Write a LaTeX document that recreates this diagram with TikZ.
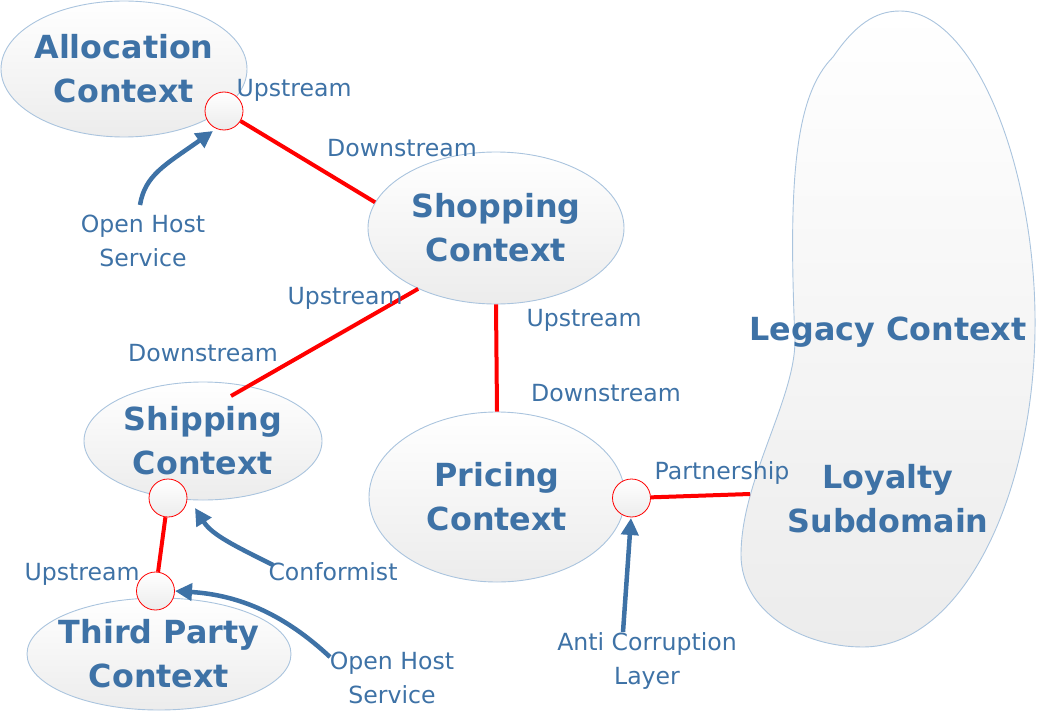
\documentclass[tikz,border=0pt]{standalone}
\usepackage{fontspec}
\setmainfont{DejaVu Sans}
\usetikzlibrary{shapes.geometric,arrows.meta}
\definecolor{txt}{RGB}{62,114,166}
\definecolor{ctxborder}{RGB}{170,196,222}
\definecolor{ctxbottom}{RGB}{236,236,236}
\begin{document}
\begin{tikzpicture}[x=1pt,y=-1pt,
  ctx/.style={ellipse, draw=ctxborder, line width=0.9pt, top color=white, bottom color=ctxbottom, inner sep=0pt},
  title/.style={text=txt, font=\fontsize{31.8}{44}\selectfont\bfseries, align=center, inner sep=0pt},
  lbl/.style={text=txt, font=\fontsize{23.6}{34}\selectfont, align=center, inner sep=0pt},
  port/.style={circle, draw=red, line width=0.8pt, top color=white, bottom color=ctxbottom, minimum size=38pt, inner sep=0pt},
  rel/.style={draw=red, line width=4pt},
  pat/.style={draw=txt, line width=4.5pt, -{Triangle[length=17pt,width=17pt]}}]
\useasboundingbox (0,0) rectangle (1040,722);

% Legacy context blob
\path[draw=ctxborder, line width=0.9pt, top color=white, bottom color=ctxbottom]
  (833,57) .. controls (855,25) and (875,11) .. (900,11)
  .. controls (975,11) and (1037,170) .. (1035,330)
  .. controls (1033,500) and (960,647) .. (863,647)
  .. controls (800,647) and (741,610) .. (741,555)
  .. controls (741,480) and (795,400) .. (795,340)
  .. controls (788,180) and (795,95) .. (833,57) -- cycle;
\node[title, anchor=base] (legacy) at (888,340.5) {Legacy Context};
\node[title] (loyal) at (888,498.5) {Loyalty\\Subdomain};
\coordinate (loyalL) at (750,494);

% contexts
\node[ctx, minimum width=246pt, minimum height=136pt] (alloc) at (124,69) {};
\node[title] at (alloc) {Allocation\\Context};
\node[ctx, minimum width=256pt, minimum height=152pt] (shop) at (496,228) {};
\node[title] at (shop) {Shopping\\Context};
\node[ctx, minimum width=238pt, minimum height=118pt] (ship) at (203,441) {};
\node[title] at (ship) {Shipping\\Context};
\node[ctx, minimum width=264pt, minimum height=112pt] (third) at (159,654) {};
\node[title] at (third) {Third Party\\Context};
\node[ctx, minimum width=256pt, minimum height=170pt] (price) at (497,497) {};
\node[title] at (price) {Pricing\\Context};

% ports
\node[port] (ca) at (224,111) {};
\node[port] (cs) at (168,498) {};
\node[port] (ct) at (155.5,591) {};
\node[port] (cp) at (631.5,498) {};

% relations
\coordinate (shipT) at (231,396);
\draw[rel] (ca) -- (shop.168);
\draw[rel] (shop.218) -- (shipT);
\draw[rel] (shop.south) -- (price.north);
\draw[rel] (cs) -- (ct);
\draw[rel] (cp) -- (loyalL);

% labels
\node[lbl, anchor=base] (l1) at (294,96.5) {Upstream};
\node[lbl, anchor=base] (l2) at (402,156.5) {Downstream};
\node[lbl, anchor=base] (l3) at (345,304.5) {Upstream};
\node[lbl, anchor=base] (l4) at (203,361.5) {Downstream};
\node[lbl, anchor=base] (l5) at (584,326.5) {Upstream};
\node[lbl, anchor=base] (l6) at (606,401.5) {Downstream};
\node[lbl, anchor=base] (l7) at (722,479.5) {Partnership};
\node[lbl, anchor=base] (l8) at (82,580.5) {Upstream};
\node[lbl, anchor=base] (conf) at (333,580.5) {Conformist};
\node[lbl] (ohs1) at (143,240.5) {Open Host\\Service};
\node[lbl] (ohs2) at (392,677.5) {Open Host\\Service};
\node[lbl] (acl) at (647,660.5) {Anti Corruption\\Layer};

% pattern arrows
\coordinate (a1) at (140,205);
\coordinate (a2) at (273,565);
\coordinate (a3) at (330,657);
\coordinate (a4) at (623,632);
\coordinate (t1) at (213,131);
\coordinate (t2) at (195,508);
\coordinate (t3) at (175,591);
\coordinate (t4) at (631,518);
\draw[pat] (a1) .. controls (145,175) and (165,165) .. (t1);
\draw[pat] (a2) .. controls (235,546) and (212,535) .. (t2);
\draw[pat] (a3) .. controls (285,615) and (240,595) .. (t3);
\draw[pat] (a4) -- (t4);
\end{tikzpicture}
\end{document}
